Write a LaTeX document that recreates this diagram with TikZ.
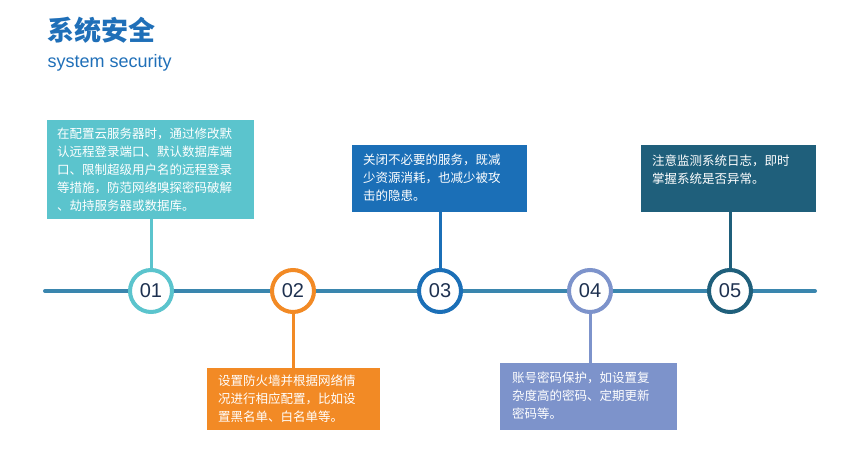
\documentclass[tikz,border=0pt]{standalone}
\usepackage{fontspec}
\setmainfont{Liberation Sans}
\newfontfamily\cjk{Noto Sans CJK SC}
\definecolor{cA}{HTML}{5BC4CD}
\definecolor{cB}{HTML}{F28A25}
\definecolor{cC}{HTML}{1B6FB7}
\definecolor{cD}{HTML}{7D93CB}
\definecolor{cE}{HTML}{1F5F7B}
\definecolor{lineC}{HTML}{3A86AE}
\definecolor{numC}{HTML}{1E3150}
\definecolor{titleC}{HTML}{1F6FB8}
\begin{document}
\begin{tikzpicture}[x=1pt,y=-1pt,
  box/.style={fill=#1,anchor=north west,inner sep=0pt,text=white,align=left,font=\cjk\fontsize{12.5}{18}\selectfont},
  num/.style={circle,draw=#1,line width=4pt,fill=white,minimum size=42pt,inner sep=0pt,text=numC,font=\fontsize{20}{20}\selectfont},
  conn/.style={draw=#1,line width=3pt}]
\useasboundingbox (0,0) rectangle (855,462);
\node[anchor=west,text=titleC,font=\cjk\bfseries\fontsize{27}{27}\selectfont] (t1) at (44,30) {系统安全};
\node[anchor=west,text=titleC,font=\fontsize{18}{18}\selectfont] (t2) at (44,63) {system security};
\coordinate (L) at (45,291); \coordinate (R) at (815,291);
\draw[lineC,line width=4pt,line cap=round] (L) -- (R);
% boxes
\node[box=cA,minimum width=207pt,minimum height=99pt] (b1) at (47,120) {};
\node[anchor=west,text=white,align=left,font=\cjk\fontsize{12.5}{18}\selectfont,inner sep=0pt] (x1) at (57,170) {在配置云服务器时，通过修改默\\认远程登录端口、默认数据库端\\口、限制超级用户名的远程登录\\等措施，防范网络嗅探密码破解\\、劫持服务器或数据库。};
\node[box=cB,minimum width=173pt,minimum height=62pt] (b2) at (207,368) {};
\node[anchor=west,text=white,align=left,font=\cjk\fontsize{12.5}{18}\selectfont,inner sep=0pt] (x2) at (218,399) {设置防火墙并根据网络情\\况进行相应配置，比如设\\置黑名单、白名单等。};
\node[box=cC,minimum width=175pt,minimum height=67pt] (b3) at (352,145) {};
\node[anchor=west,text=white,align=left,font=\cjk\fontsize{12.5}{18}\selectfont,inner sep=0pt] (x3) at (363,178) {关闭不必要的服务，既减\\少资源消耗，也减少被攻\\击的隐患。};
\node[box=cD,minimum width=177pt,minimum height=67pt] (b4) at (500,363) {};
\node[anchor=west,text=white,align=left,font=\cjk\fontsize{12.5}{18}\selectfont,inner sep=0pt] (x4) at (512,396) {账号密码保护，如设置复\\杂度高的密码、定期更新\\密码等。};
\node[box=cE,minimum width=175pt,minimum height=67pt] (b5) at (641,145) {};
\node[anchor=west,text=white,align=left,font=\cjk\fontsize{12.5}{18}\selectfont,inner sep=0pt] (x5) at (652,170) {注意监测系统日志，即时\\掌握系统是否异常。};
% circles
\node[num=cA] (n1) at (151,291) {01};
\node[num=cB] (n2) at (293,291) {02};
\node[num=cC] (n3) at (440,291) {03};
\node[num=cD] (n4) at (590,291) {04};
\node[num=cE] (n5) at (730,291) {05};
% connectors
\draw[conn=cA] (b1.south -| n1) -- (n1.north);
\draw[conn=cB] (n2.south) -- (n2 |- b2.north);
\draw[conn=cC] (b3.south -| n3) -- (n3.north);
\draw[conn=cD] (n4.south) -- (n4 |- b4.north);
\draw[conn=cE] (b5.south -| n5) -- (n5.north);
\end{tikzpicture}
\end{document}
